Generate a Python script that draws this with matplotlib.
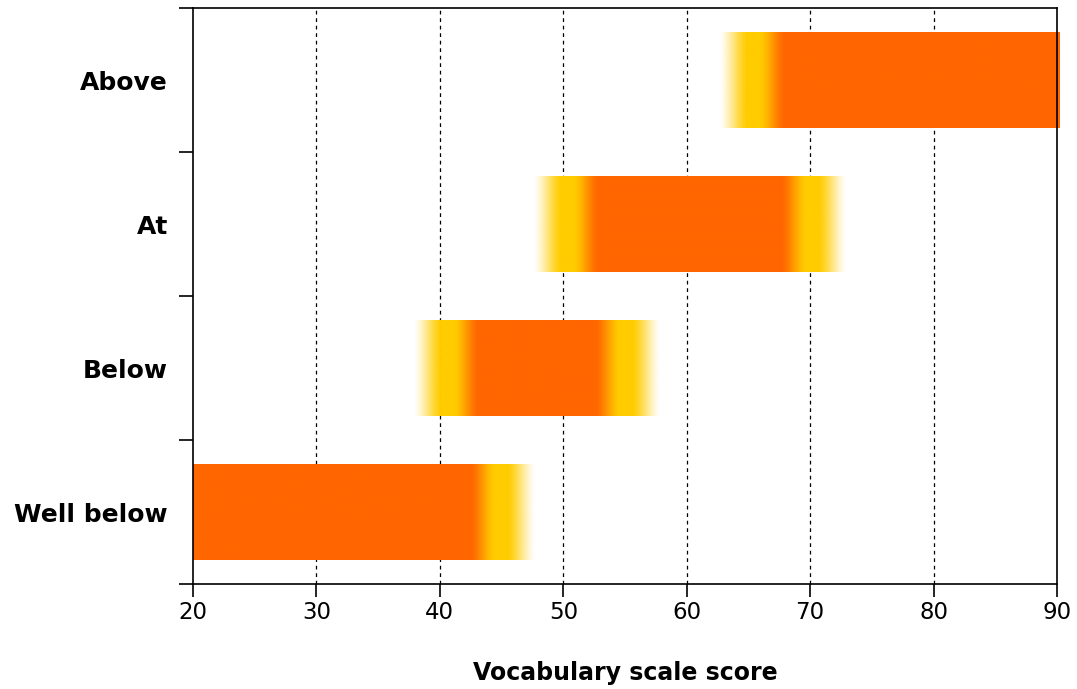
import numpy as np
import matplotlib
matplotlib.use("Agg")
import matplotlib.pyplot as plt
from matplotlib.colors import to_rgb

# ---- data ----
categories = ["Well below", "Below", "At", "Above"]
# score range for each band (centre of the yellow transition zone)
range_low = [20.0, 40.6, 50.3, 65.4]
range_high = [45.0, 55.1, 70.2, 90.2]
low_open = [True, False, False, False]    # open-ended: no fuzzy edge
high_open = [False, False, False, True]
x_ticks = [20, 30, 40, 50, 60, 70, 80, 90]
x_label = "Vocabulary scale score"

ORANGE = np.array(to_rgb("#FF6600"))
YELLOW = np.array(to_rgb("#FFCC00"))


def ramp(t):
    t = np.clip(t, 0, 1)
    return 0.5 * t + 0.5 * t * t * (3 - 2 * t)


def edge_profile(d):
    """d = outward distance from edge centre. returns (mix yellow, alpha)."""
    mix = ramp((d + 2.5) / 1.9)            # orange -> yellow
    alpha = 1 - ramp((d - 0.5) / 2.2)      # yellow -> transparent
    return mix, alpha


fig = plt.figure(figsize=(10.77, 6.89), dpi=100)
ax = fig.add_axes([193 / 1077, 1 - 584 / 689, (1057 - 193) / 1077, (584 - 8) / 689])

ax.set_xlim(20, 90)
ax.set_ylim(-0.5, 3.5)

for xv in x_ticks[1:-1]:
    ax.axvline(xv, color="black", lw=0.9, ls=(0, (3, 3)), zorder=1)

half_h = 0.333
for i, cat in enumerate(categories):
    lo, hi = range_low[i], range_high[i]
    x0 = lo if low_open[i] else lo - 3.0
    x1 = hi if high_open[i] else hi + 3.0
    xs = np.linspace(x0, x1, 1200)
    mix = np.zeros_like(xs)
    alpha = np.ones_like(xs)
    if not low_open[i]:
        m, a = edge_profile(lo - xs)
        mix = np.maximum(mix, m)
        alpha = np.minimum(alpha, a)
    if not high_open[i]:
        m, a = edge_profile(xs - hi)
        mix = np.maximum(mix, m)
        alpha = np.minimum(alpha, a)
    rgb = ORANGE[None, :] * (1 - mix[:, None]) + YELLOW[None, :] * mix[:, None]
    img = np.concatenate([rgb, alpha[:, None]], axis=1)[None, :, :]
    ax.imshow(img, extent=[x0, x1, i - half_h, i + half_h], aspect="auto",
              interpolation="bilinear", zorder=2, clip_on=False)

ax.set_xlim(20, 90)
ax.set_ylim(-0.5, 3.5)

for s in ax.spines.values():
    s.set_linewidth(1.2)
    s.set_color("black")
    s.set_zorder(3)

ax.set_xticks(x_ticks)
ax.set_xticklabels([str(v) for v in x_ticks], fontsize=16.5, family="DejaVu Sans")
ax.tick_params(axis="x", direction="out", length=9, width=1.2, pad=3)

ax.set_yticks(range(len(categories)))
ax.set_yticklabels(categories, fontsize=18, fontweight="bold", family="DejaVu Sans")
ax.tick_params(axis="y", which="major", length=0, pad=18)
ax.set_yticks(np.arange(-0.5, len(categories), 1.0), minor=True)
ax.tick_params(axis="y", which="minor", direction="out", length=10, width=1.2)

ax.set_xlabel(x_label, fontsize=17, fontweight="bold", family="DejaVu Sans", labelpad=27)

fig.savefig("out.png", dpi=100)
